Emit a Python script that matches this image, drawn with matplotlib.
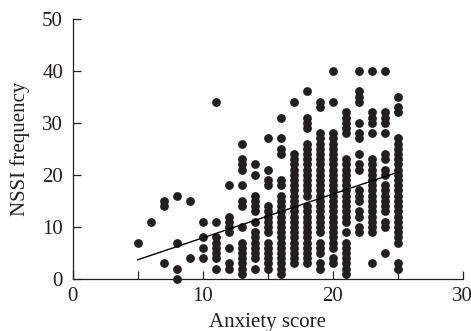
import matplotlib
matplotlib.use("Agg")
import matplotlib.pyplot as plt
from matplotlib.ticker import MultipleLocator

# Anxiety score columns and the NSSI frequencies read at each score
nssi_at_5 = [7]
nssi_at_6 = [11]
nssi_at_7 = [3, 14, 15]
nssi_at_8 = [0, 2, 7, 16]
nssi_at_9 = [4, 15]
nssi_at_10 = [4, 6, 8, 11]
nssi_at_11 = [2, 4, 5, 6, 7, 8, 11, 34]
nssi_at_12 = [2, 3, 6, 9, 10, 11, 12, 18]
nssi_at_13 = [1, 2, 3, 4, 5, 6, 7, 10, 14, 15, 18, 21, 22, 23, 26]
nssi_at_14 = [2, 4, 5, 6, 7, 8, 9, 11, 13, 14, 15, 16, 20, 22]
nssi_at_15 = [2, 3, 4, 5, 6, 7, 9, 10, 11, 12, 13, 14, 18, 19, 21, 27]
nssi_at_16 = [1, 2, 3, 4, 5, 6, 7, 8, 9, 10, 11, 12, 13, 14, 15, 16, 18, 19,
              24, 25, 27, 31]
nssi_at_17 = [3, 4, 5, 6, 7, 8, 9, 10, 11, 12, 13, 14, 15, 16, 17, 18, 19, 20,
              21, 22, 23, 24, 34]
nssi_at_18 = [3, 4, 5, 6, 7, 8, 9, 10, 11, 12, 13, 14, 16, 17, 18, 19, 20, 21,
              22, 23, 24, 25, 26, 29, 30, 31, 36]
nssi_at_19 = [2, 3, 5, 6, 7, 9, 10, 11, 12, 13, 14, 15, 16, 17, 18, 19, 20, 21,
              22, 23, 24, 25, 26, 27, 28, 33, 34]
nssi_at_20 = [3, 4, 6, 7, 8, 9, 10, 11, 12, 13, 14, 15, 16, 17, 18, 19, 20, 21,
              22, 23, 24, 25, 26, 27, 28, 34, 40]
nssi_at_21 = [1, 2, 3, 4, 5, 6, 7, 9, 11, 12, 13, 14, 15, 16, 17, 18, 19, 20,
              21, 22, 23, 28, 29, 30, 31, 32]
nssi_at_22 = [9, 10, 12, 13, 15, 16, 17, 21, 22, 24, 27, 28, 30, 34, 35, 36, 40]
nssi_at_23 = [3, 9, 10, 11, 12, 13, 14, 15, 16, 17, 18, 19, 20, 21, 22, 23, 28,
              30, 31, 32, 40]
nssi_at_24 = [5, 10, 11, 13, 14, 15, 16, 17, 18, 20, 21, 23, 24, 28, 30, 31, 32, 40]
nssi_at_25 = [2, 3, 7, 8, 9, 10, 11, 12, 13, 14, 15, 16, 17, 18, 19, 20, 21, 22,
              23, 24, 25, 26, 27, 32, 33, 35]

anxiety_scores = [5, 6, 7, 8, 9, 10, 11, 12, 13, 14, 15, 16, 17, 18, 19, 20,
                  21, 22, 23, 24, 25]
nssi_columns = [nssi_at_5, nssi_at_6, nssi_at_7, nssi_at_8, nssi_at_9,
                nssi_at_10, nssi_at_11, nssi_at_12, nssi_at_13, nssi_at_14,
                nssi_at_15, nssi_at_16, nssi_at_17, nssi_at_18, nssi_at_19,
                nssi_at_20, nssi_at_21, nssi_at_22, nssi_at_23, nssi_at_24,
                nssi_at_25]

# Regression line end points
fit_x = [5, 25]
fit_y = [3.7, 20.5]

x_ticks = [0, 10, 20, 30]
y_ticks = [0, 10, 20, 30, 40, 50]

xs, ys = [], []
for score, col in zip(anxiety_scores, nssi_columns):
    for v in col:
        xs.append(score)
        ys.append(v)

plt.rcParams['font.family'] = ['Liberation Serif', 'DejaVu Serif']
ink = '#231f20'

fig = plt.figure(figsize=(4.71, 3.31), dpi=100)
ax = fig.add_axes([0.1545, 0.157, 0.828, 0.787])

ax.scatter(xs, ys, s=40, color=ink, linewidths=0, clip_on=False, zorder=3)
ax.plot(fit_x, fit_y, color='black', linewidth=1.0, zorder=4)

ax.set_xlim(0, 30)
ax.set_ylim(0, 50)
ax.set_xticks(x_ticks)
ax.set_yticks(y_ticks)
ax.xaxis.set_minor_locator(MultipleLocator(5))

for side in ['top', 'right']:
    ax.spines[side].set_visible(False)
for side in ['left', 'bottom']:
    ax.spines[side].set_color(ink)
    ax.spines[side].set_linewidth(0.9)

ax.tick_params(axis='both', which='both', direction='in', color=ink,
               width=0.9, labelsize=15, labelcolor=ink)
ax.tick_params(axis='x', which='both', length=6, pad=6)
ax.tick_params(axis='y', which='major', length=6, pad=7)

ax.set_xlabel('Anxiety score', fontsize=15, color=ink, labelpad=5)
ax.set_ylabel('NSSI frequency', fontsize=15, color=ink, labelpad=9)

fig.savefig('out.png', dpi=100)
